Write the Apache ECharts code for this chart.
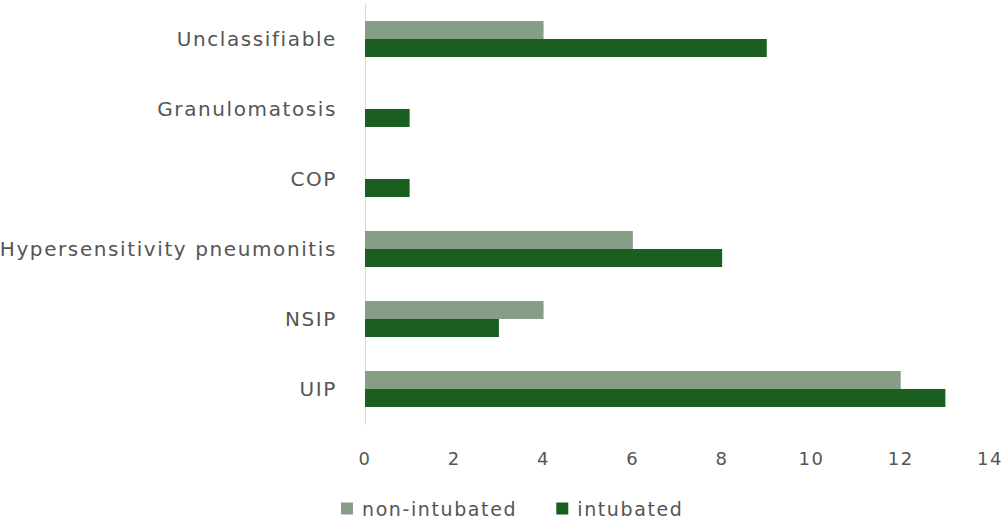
<!DOCTYPE html>
<html>
<head>
<meta charset="utf-8">
<script src="https://cdn.jsdelivr.net/npm/echarts@6/dist/echarts.min.js"></script>
<style>
  html, body { margin: 0; padding: 0; background: #fff; }
  #chart { width: 1007px; height: 520px; }
  /* the reference font is wide and loosely tracked */
  #chart text { letter-spacing: 1.6px; }
</style>
</head>
<body>
<div id="chart"></div>
<script>
const categories = ['UIP', 'NSIP', 'Hypersensitivity pneumonitis', 'COP', 'Granulomatosis', 'Unclassifiable'];
const nonIntubated = [12, 4, 6, 0, 0, 4];
const intubated = [13, 3, 8, 1, 1, 9];
const xTicks = { min: 0, max: 14, interval: 2 };

const chart = echarts.init(document.getElementById('chart'), null, { renderer: 'svg' });
const textColor = '#555555';
const font = '"DejaVu Sans", Verdana, sans-serif';

chart.setOption({
  animation: false,
  textStyle: { fontFamily: font },
  grid: { left: 365, right: 17, top: 4, bottom: 96, containLabel: false },
  legend: {
    top: 494,
    left: 336,
    data: ['non-intubated', 'intubated'],
    icon: 'rect',
    itemWidth: 12,
    itemHeight: 12,
    itemGap: 60,
    textStyle: { color: textColor, fontSize: 19, fontFamily: font, padding: [0, 0, 0, 4] }
  },
  xAxis: {
    type: 'value',
    min: xTicks.min,
    max: xTicks.max,
    interval: xTicks.interval,
    axisLine: { show: false },
    axisTick: { show: false },
    splitLine: { show: false },
    axisLabel: { color: textColor, fontSize: 18, margin: 25 }
  },
  yAxis: {
    type: 'category',
    data: categories,
    axisLine: { show: true, lineStyle: { color: '#d9d9d9', width: 1 } },
    axisTick: { show: false },
    axisLabel: { color: textColor, fontSize: 20, margin: 28 }
  },
  series: [
    {
      name: 'non-intubated',
      type: 'bar',
      data: nonIntubated,
      barWidth: 18,
      barGap: '0%',
      itemStyle: { color: '#869e86' }
    },
    {
      name: 'intubated',
      type: 'bar',
      data: intubated,
      barWidth: 18,
      barGap: '0%',
      itemStyle: { color: '#1a5e20' }
    }
  ]
});
</script>
</body>
</html>
